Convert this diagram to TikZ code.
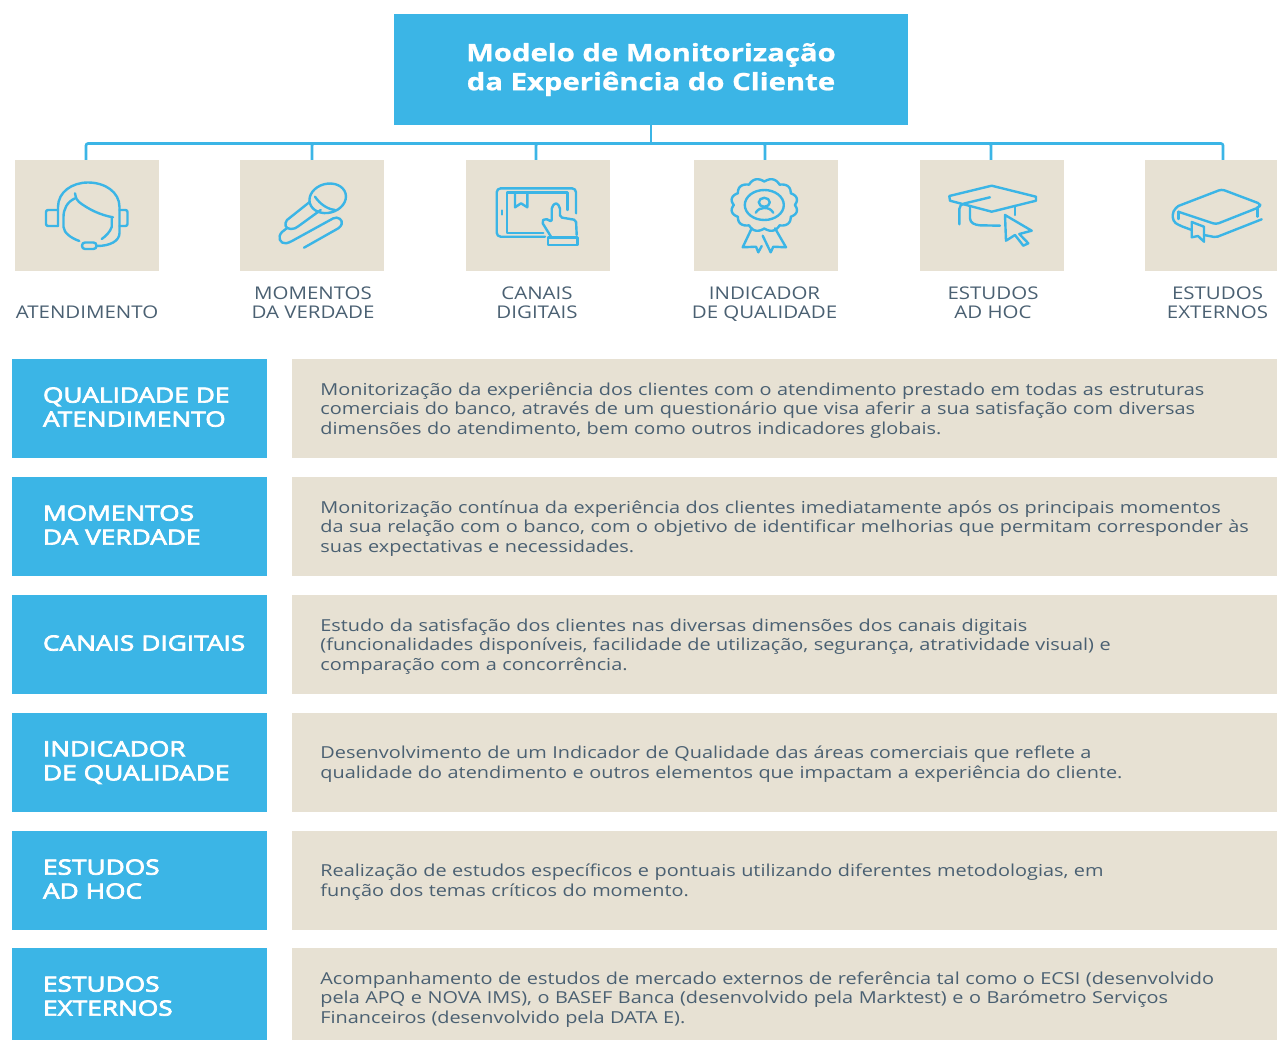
\documentclass[tikz,border=0pt]{standalone}
\usepackage{fontspec}
\setmainfont{Open Sans}
\newfontfamily\notefont[FakeStretch=1.205]{Open Sans}
\newfontfamily\tilefont[FakeStretch=1.17]{Open Sans}
\newfontfamily\headfont[FakeStretch=1.25,FakeBold=3.5]{Open Sans}
\newfontfamily\titlefont[FakeStretch=1.22,FakeBold=1]{Open Sans}
\usetikzlibrary{positioning}
\definecolor{skyblue}{HTML}{3BB5E6}
\definecolor{sand}{HTML}{E7E1D3}
\definecolor{slatetext}{HTML}{4A6072}
\tikzset{
	titlebox/.style={fill=skyblue,text=white,align=center,minimum width=514pt,minimum height=111pt,inner sep=0pt,font=\fontsize{24}{29}\titlefont\bfseries},
	tile/.style={fill=sand,minimum width=144pt,minimum height=111pt,inner sep=0pt},
	tilelabel/.style={anchor=south,align=center,text=slatetext,inner sep=0pt,text depth=0pt,font=\fontsize{17.5}{19}\tilefont},
	headbox/.style={fill=skyblue,text=white,align=left,text width=193pt,inner xsep=31pt,inner ysep=0pt,minimum height=99pt,execute at end node={\rule[-3pt]{0pt}{0pt}},font=\fontsize{21}{24}\headfont},
	notebox/.style={fill=sand,text=slatetext,align=left,text width=929pt,inner xsep=28pt,inner ysep=0pt,minimum height=99pt,execute at begin node={\rule{0pt}{16pt}},font=\fontsize{16.5}{19.5}\notefont},
	busline/.style={draw=skyblue,line width=2.6pt,rounded corners=2pt},
	icon/.style={draw=skyblue,line width=2.4pt,line join=round,line cap=round},
}
\begin{document}
\begin{tikzpicture}[x=1pt,y=-1pt]
	\useasboundingbox (0,0) rectangle (1277,1039);
	\node[titlebox] (title) at (651,69.5) {Modelo de Monitorização\\da Experiência do Cliente};

	% tiles
	\node[tile] (tileA) at (87,215.5) {};
	\node[tile] (tileB) at (312,215.5) {};
	\node[tile] (tileC) at (538,215.5) {};
	\node[tile] (tileD) at (766,215.5) {};
	\node[tile] (tileE) at (992,215.5) {};
	\node[tile] (tileF) at (1217,215.5) {};

	% bus
	\coordinate (bus) at (651,143.5);
	\draw[busline] (title.south) -- (bus);
	\draw[busline] ([xshift=-1pt]tileA.north) |- (bus);
	\draw[busline] (tileB.north) |- (bus);
	\draw[busline] ([xshift=-2pt]tileC.north) |- (bus);
	\draw[busline] ([xshift=-1pt]tileD.north) |- (bus);
	\draw[busline] ([xshift=-1pt]tileE.north) |- (bus);
	\draw[busline] ([xshift=6pt]tileF.north) |- (bus);

	% labels under the tiles
	\node[tilelabel] (labelA) at (87,319) {ATENDIMENTO};
	\node[tilelabel] (labelB) at (313,319) {MOMENTOS\\DA VERDADE};
	\node[tilelabel] (labelC) at (537,319) {CANAIS\\DIGITAIS};
	\node[tilelabel] (labelD) at (764.5,319) {INDICADOR\\DE QUALIDADE};
	\node[tilelabel] (labelE) at (993,319) {ESTUDOS\\AD HOC};
	\node[tilelabel] (labelF) at (1217.5,319) {ESTUDOS\\EXTERNOS};

	% rows
	\node[headbox] (headA) at (139.5,408.5) {QUALIDADE DE\\ATENDIMENTO};
	\node[notebox,right=25pt of headA] (noteA) {Monitorização da experiência dos clientes com o atendimento prestado em todas as estruturas\\comerciais do banco, através de um questionário que visa aferir a sua satisfação com diversas\\dimensões do atendimento, bem como outros indicadores globais.};
	\node[headbox] (headB) at (139.5,526.5) {MOMENTOS\\DA VERDADE};
	\node[notebox,right=25pt of headB] (noteB) {Monitorização contínua da experiência dos clientes imediatamente após os principais momentos\\\mbox{da sua relação com o banco, com o objetivo de identificar melhorias que permitam corresponder às}\\suas expectativas e necessidades.};
	\node[headbox] (headC) at (139.5,644.5) {\makebox[193pt][l]{CANAIS DIGITAIS}};
	\node[notebox,right=25pt of headC] (noteC) {Estudo da satisfação dos clientes nas diversas dimensões dos canais digitais\\(funcionalidades disponíveis, facilidade de utilização, segurança, atratividade visual) e\\comparação com a concorrência.};
	\node[headbox] (headD) at (139.5,762.5) {INDICADOR\\DE QUALIDADE};
	\node[notebox,right=25pt of headD] (noteD) {Desenvolvimento de um Indicador de Qualidade das áreas comerciais que reflete a\\qualidade do atendimento e outros elementos que impactam a experiência do cliente.};
	\node[headbox] (headE) at (139.5,880.5) {ESTUDOS\\AD HOC};
	\node[notebox,right=25pt of headE] (noteE) {Realização de estudos específicos e pontuais utilizando diferentes metodologias, em\\função dos temas críticos do momento.};
	\node[headbox] (headF) at (139.5,997.5) {ESTUDOS\\EXTERNOS};
	\node[notebox,right=25pt of headF] (noteF) {Acompanhamento de estudos de mercado externos de referência tal como o ECSI (desenvolvido\\pela APQ e NOVA IMS), o BASEF Banca (desenvolvido pela Marktest) e o Barómetro Serviços\\Financeiros (desenvolvido pela DATA E).};

	% headset
	\draw[icon] (58,226) -- (58,207) .. controls (58,192) and (72,182.5) .. (88,182.5) .. controls (105,182.5) and (119.5,192) .. (119.5,207) -- (119.5,233) .. controls (119.5,241) and (110,246) .. (97,246);
	\draw[icon,rounded corners=2pt] (58,210) -- (46,210) -- (46,226) -- (58,226);
	\draw[icon,rounded corners=2pt] (119.5,210) -- (127.5,210) -- (127.5,226) -- (119.5,226);
	\draw[icon,rounded corners=3pt] (82,242.5) rectangle (96.5,249);
	\draw[icon] (75,198.3) .. controls (67,202) and (63.5,209) .. (63.5,217) -- (63.5,227) .. controls (64,233) and (71,238) .. (79.3,241);
	\draw[icon] (75,193.3) .. controls (76,199) and (77,200) .. (79,202) .. controls (88,209) and (100,215) .. (113,217.3);
	\draw[icon] (111.7,217.3) -- (111.7,227) .. controls (110,232) and (106,236) .. (101.7,239);

	% microphone
	\draw[icon,rotate around={15:(327.7,198.3)}] (327.7,198.3) ellipse (18.5pt and 14.5pt);
	\draw[icon] (315,196.7) .. controls (320,204) and (327,209) .. (335,210);
	\draw[icon] (310,201.7) -- (287,220) .. controls (284,224) and (285,229) .. (291,229) .. controls (294,229) and (296,228) .. (298,226.5) -- (320.7,210);
	\draw[icon] (286.7,228.3) -- (282,232) .. controls (277,237) and (280,244) .. (286,243.3) .. controls (288,243) and (290,242) .. (292,241) -- (333.3,218.3) .. controls (338,216) and (343,220) .. (341.7,224) .. controls (341,226) and (340,227) .. (338.3,228.3) -- (304,247.7);

	% tablet
	\draw[icon,rounded corners=4pt] (576,213.3) -- (576,188.3) -- (496.7,188.3) -- (496.7,236.7) -- (545,236.7);
	\draw[icon] (567.3,210) -- (567.3,192.3) -- (506.7,192.3) -- (506.7,232.7) -- (543.3,232.7);
	\draw[icon] (515,192.3) -- (515,207.3) -- (521,203.3) -- (527.3,207.3) -- (527.3,192.3);
	\draw[icon] (501.7,210.5) -- (501.7,214.5);
	\draw[icon,rounded corners=2pt] (551,236.7) -- (541.7,221.7) -- (545,218.3) -- (551.7,221.7) -- (551.7,206.7) -- (556,202.7) -- (560,206.7) -- (560,217.3) -- (576,220) -- (576.7,235);
	\draw[icon] (547.7,237.3) rectangle (577.3,245);

	% rosette
	\draw[icon] plot[domain=0:360,samples=181,smooth] ({764.3+(30.5+3*abs(sin(6*\x)))*cos(\x)},{205+(23.5+3*abs(sin(6*\x)))*sin(\x)});
	\draw[icon] (764.3,205) ellipse (19.5pt and 15pt);
	\draw[icon] (764.3,202.3) ellipse (5.5pt and 4.5pt);
	\draw[icon] (755.7,212.7) .. controls (758,209) and (761,208) .. (764.3,208) .. controls (768,208) and (771,209) .. (773.3,212.7);
	\draw[icon] (751.7,228.3) -- (742.7,247.3) -- (756,246.7) -- (758.3,252.3) -- (761.7,246);
	\draw[icon] (762.7,235.7) -- (770.7,252.3) -- (773.3,246.7) -- (786,247.3) -- (775,228.3);

	% mortarboard
	\draw[icon] (949.3,196) -- (991.7,185.7) -- (1036,196.7) -- (1036,200.7) -- (991.7,211.7) -- (950,200.7) -- cycle;
	\draw[icon] (990,197.3) -- (965,203.3) .. controls (961,204.5) and (959.3,206) .. (959.3,209) -- (959.3,224.3);
	\draw[icon] (970,206) -- (970,218.3) .. controls (970,223) and (975,225) .. (980,225.3) -- (1000,225.7);
	\draw[icon] (1015,206) -- (1015,215);
	\draw[icon] (1005,215) -- (1031.7,230.7) -- (1019.3,234) -- (1028.3,243.3) -- (1023.3,245.7) -- (1015,235) -- (1006,240.7) -- cycle;

	% book
	\draw[icon,rounded corners=3pt] (1178.3,206) -- (1221.7,189.3) -- (1260.7,204) -- (1259,207.3) -- (1216,224.3) -- (1178.3,211.7);
	\draw[icon,rounded corners=4pt] (1178.3,206) -- (1172.7,211) -- (1172.7,221) -- (1178.3,225) -- (1191.7,230);
	\draw[icon,rounded corners=2pt] (1204,235) -- (1216,237.3) -- (1261.7,219.3);
	\draw[icon] (1257.3,207.3) -- (1257.3,216.7);
	\draw[icon] (1178.3,211.7) -- (1178.3,219);
	\draw[icon] (1191.7,222) -- (1191.7,237.3) -- (1198,236) -- (1204,241.7) -- (1204,226.7) -- cycle;
\end{tikzpicture}
\end{document}
